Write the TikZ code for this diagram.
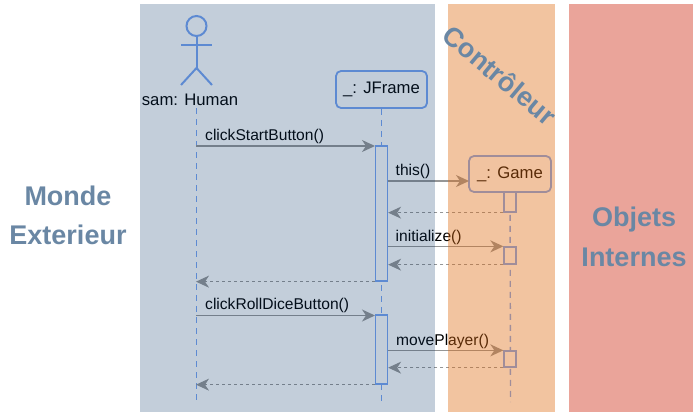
\documentclass[tikz,border=0pt]{standalone}
\usepackage{fontspec}
\setmainfont{Liberation Sans}
\usetikzlibrary{arrows.meta}
\definecolor{lifeblue}{RGB}{120,165,245}
\definecolor{msggray}{RGB}{150,150,150}
\definecolor{zoneblue}{RGB}{15,59,107}
\definecolor{zoneorange}{RGB}{222,107,18}
\definecolor{zonered}{RGB}{208,54,30}
\definecolor{zonetext}{RGB}{106,135,164}
\tikzset{
  objbox/.style={draw=lifeblue, line width=1.8pt, rounded corners=5pt, fill=white, inner sep=0pt, font=\fontsize{16.7}{18}\selectfont},
  actbox/.style={draw=lifeblue, line width=1.3pt, fill=white, inner sep=0pt, minimum width=12pt},
  lifeline/.style={draw=lifeblue, line width=1.4pt, dash pattern=on 6pt off 5pt},
  callmsg/.style={draw=msggray, line width=1.5pt, -{Stealth[length=13pt,width=12pt,inset=4pt]}},
  retmsg/.style={draw=msggray, line width=1pt, dash pattern=on 3pt off 3pt, -{Stealth[length=13pt,width=12pt,inset=4pt]}},
  msglabel/.style={anchor=base west, inner sep=0pt, font=\fontsize{15.6}{17}\selectfont},
  zonelabel/.style={text=zonetext, inner sep=0pt, anchor=base, font=\fontsize{27}{29}\selectfont\bfseries},
}
\begin{document}
\begin{tikzpicture}[x=1pt,y=-1pt]
\useasboundingbox (0,0) rectangle (700,415);
% actor
\node[circle, draw=lifeblue, line width=2pt, minimum size=20pt, inner sep=0pt] (head) at (196.5,26){};
\coordinate (hip) at (196.5,68);
\coordinate (armL) at (181,44.5);
\coordinate (armR) at (212,44.5);
\coordinate (legL) at (181,85);
\coordinate (legR) at (212,85);
\draw[lifeblue, line width=2pt](head) -- (hip);
\draw[lifeblue, line width=2pt](armL) -- (armR);
\draw[lifeblue, line width=2pt](legL) -- (hip) -- (legR);
\node[inner sep=0pt, font=\fontsize{16.7}{18}\selectfont] (sam) at (190,100){sam: Human};
% objects
\node[objbox, minimum width=91pt, minimum height=37pt] (jframe) at (381.5,89.5){\_: JFrame};
\node[objbox, minimum width=82pt, minimum height=36pt] (game) at (510,174){\_: Game};
% lifelines
\coordinate (samTop) at (196.5,108);
\coordinate (samEnd) at (196.5,402);
\coordinate (jfEnd) at (381.5,402);
\coordinate (gmEnd) at (510.5,402);
\draw[lifeline](samTop) -- (samEnd);
\draw[lifeline](jframe) -- (jfEnd);
\draw[lifeline](game) -- (gmEnd);
% activations
\node[actbox, minimum height=135pt] (jf0) at (381.5,213.5){};
\node[actbox, minimum height=69pt] (jf1) at (381.5,349.5){};
\node[actbox, minimum height=20pt] (gm0) at (510,202){};
\node[actbox, minimum height=17pt] (gm1) at (510,255.5){};
\node[actbox, minimum height=16pt] (gm2) at (510,359){};
% messages
\coordinate (m0) at (196,146);
\coordinate (m0e) at (375,146);
\coordinate (m1) at (387.5,181);
\coordinate (m1e) at (469,181);
\coordinate (m4) at (196,281);
\coordinate (m5) at (196,315.5);
\coordinate (m5e) at (375,315.5);
\coordinate (m8) at (196,384);
\draw[callmsg](m0) -- (m0e);
\draw[callmsg](m1) -- (m1e);
\draw[retmsg](gm0.south west) -- (gm0.south west -| jf0.east);
\draw[callmsg](gm1.north west -| jf0.east) -- (gm1.north west);
\draw[retmsg](gm1.south west) -- (gm1.south west -| jf0.east);
\draw[retmsg](jf0.south west) -- (jf0.south west -| m4);
\draw[callmsg](m5) -- (m5e);
\draw[callmsg](gm2.north west -| jf1.east) -- (gm2.north west);
\draw[retmsg](gm2.south west) -- (gm2.south west -| jf1.east);
\draw[retmsg](jf1.south west) -- (jf1.south west -| m8);
\node[msglabel] (l0) at (205,140){clickStartButton()};
\node[msglabel] (l1) at (395.5,175.5){this()};
\node[msglabel] (l2) at (395.5,241.5){initialize()};
\node[msglabel] (l3) at (205,309.5){clickRollDiceButton()};
\node[msglabel] (l4) at (396,345.5){movePlayer()};
% zones
\fill[zoneblue, fill opacity=.25] (140,4) rectangle (435,412);
\fill[zoneorange, fill opacity=.4] (448,4) rectangle (555,412);
\fill[zonered, fill opacity=.45] (569,4) rectangle (693,412);
\node[zonelabel] (monde) at (68,205.5){Monde};
\node[zonelabel] (ext) at (68,244.5){Exterieur};
\node[zonelabel, anchor=center, rotate=-40] (ctrl) at (500,75){Contrôleur};
\node[zonelabel] (obj) at (634,226.5){Objets};
\node[zonelabel] (int) at (634,266.5){Internes};
\end{tikzpicture}
\end{document}
